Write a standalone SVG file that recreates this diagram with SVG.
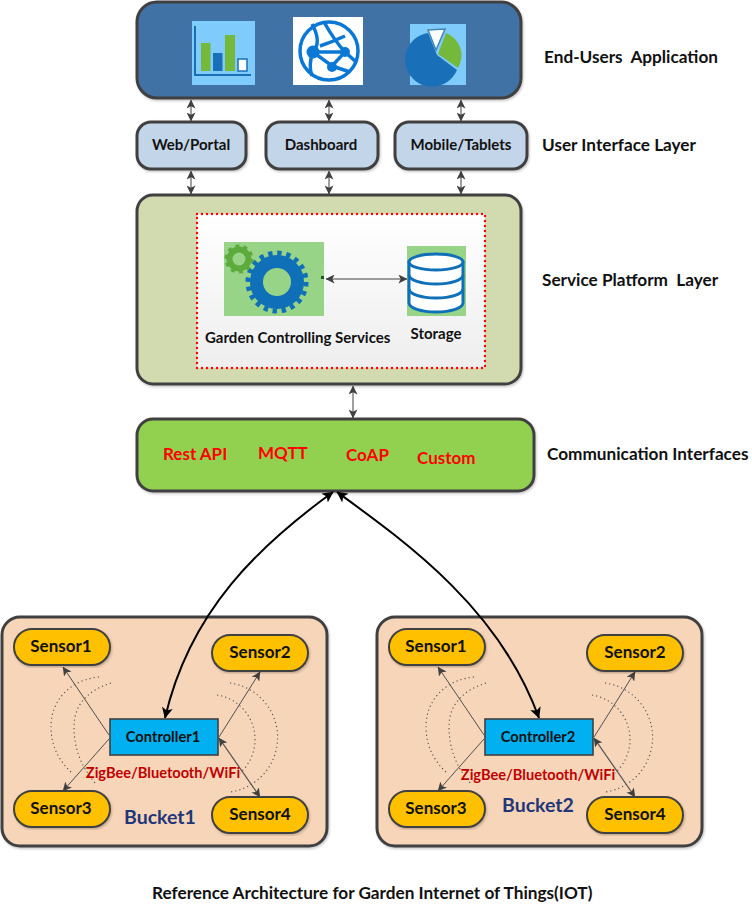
<svg xmlns="http://www.w3.org/2000/svg" width="752" height="905" viewBox="0 0 752 905">
<style>
text{font-family:Lato,"Open Sans","Liberation Sans",sans-serif;font-weight:700;fill:#111;white-space:pre}
.box{stroke:#404040;stroke-width:3;filter:url(#sh)}
.c{text-anchor:middle}
.ui{font-size:15px}
.layer{font-size:17.2px}
.proto{font-size:17px;fill:#ff0000}
.sensor rect{fill:#ffc000;stroke:#404040;stroke-width:2;filter:url(#sh)}
.sensor text{font-size:17px;text-anchor:middle}
.ctrl rect{fill:#00b0f0;stroke:#404040;stroke-width:1.6}
.ctrl text{font-size:14.7px;text-anchor:middle}
.rad{font-size:14.6px;fill:#c00000;text-anchor:middle}
.bk{font-size:19.5px;fill:#1f3678;text-anchor:middle}
.l{fill:none;stroke:#404040;stroke-width:1;marker-end:url(#a);marker-start:url(#a)}
.s{fill:none;stroke:#505050;stroke-width:1;marker-end:url(#a)}
.d{fill:none;stroke:#505050;stroke-width:1.2;marker-end:url(#a);marker-start:url(#a)}
.big{fill:none;stroke:#000;stroke-width:2;marker-end:url(#b);marker-start:url(#b)}
.arc{fill:none;stroke:#505050;stroke-width:1.1;stroke-dasharray:1.2 3}
</style>
<defs>
<filter id="sh" x="-5%" y="-5%" width="110%" height="112%"><feDropShadow dx="1" dy="1.5" stdDeviation="1.2" flood-color="#000" flood-opacity="0.22"/></filter>
<marker id="a" viewBox="0 0 10 10" refX="9.5" refY="5" markerUnits="userSpaceOnUse" markerWidth="9" markerHeight="9" orient="auto-start-reverse"><path d="M0 0L10 5L0 10L2.5 5Z" fill="#404040"/></marker>
<marker id="b" viewBox="0 0 10 10" refX="9.5" refY="5" markerUnits="userSpaceOnUse" markerWidth="11" markerHeight="11" orient="auto-start-reverse"><path d="M0 0L10 5L0 10L2.5 5Z" fill="#000"/></marker>
<linearGradient id="wg" x1="0" y1="0" x2="0" y2="1"><stop offset="0" stop-color="#ffffff"/><stop offset="1" stop-color="#eeeeee"/></linearGradient>
</defs>

<g id="end-users">
<rect class="box" x="137" y="2" width="384" height="96" rx="20" fill="#3f72a6"/>
<g id="icon-chart">
<rect x="192" y="21" width="63" height="64" fill="#7fcbfb"/>
<path d="M195 26V75H251" fill="none" stroke="#1a70b8" stroke-width="2"/>
<rect x="201" y="43" width="9.500" height="28" fill="#74b83c"/>
<rect x="213" y="53" width="9.500" height="18" fill="#1a70b8"/>
<rect x="225" y="35" width="10" height="36" fill="#74b83c"/>
<rect x="238" y="59" width="9" height="12" fill="#fff" stroke="#1a70b8" stroke-width="1.500"/>
</g>
<g id="icon-globe">
<rect x="293" y="17" width="70" height="68" fill="#fff"/>
<g fill="none" stroke="#0a78d4" stroke-width="3.500">
<circle cx="329" cy="51" r="29"/>
<path d="M312 24Q322 42 313 52Q308 65 312 76M313 52L345 52L332 66L313 52M324 22Q334 40 345 52L355 61M345 36Q332 42 320 46M332 66Q344 70 350 72"/>
</g>
<g fill="#0a78d4"><circle cx="313" cy="52" r="6.500"/><circle cx="345" cy="52" r="5"/><circle cx="332" cy="67" r="5"/></g>
</g>
<g id="icon-pie">
<rect x="410" y="24" width="56" height="61" fill="#7fcbfb"/>
<path d="M437 55L428 33A27 27 0 1 0 457 70Z" fill="#1a70b8"/>
<path d="M438 54L446 33A24 24 0 0 1 458 68Z" fill="#74b83c"/>
<path d="M428 30L445 29L436 50Z" fill="#fff" stroke="#3f86b8" stroke-width="1.500"/>
</g>
</g>

<g id="web-portal"><rect class="box" x="137" y="122" width="109" height="47" rx="14" fill="#c3d5e8"/><text class="ui c" x="191" y="150">Web/Portal</text></g>
<g id="dashboard"><rect class="box" x="266" y="122" width="112" height="47" rx="14" fill="#c3d5e8"/><text class="ui c" x="321" y="150">Dashboard</text></g>
<g id="mobile-tablets"><rect class="box" x="395" y="122" width="132" height="47" rx="14" fill="#c3d5e8"/><text class="ui c" x="461" y="150">Mobile/Tablets</text></g>

<g id="service-platform">
<rect class="box" x="137" y="195" width="384" height="189" rx="16" fill="#d2dab0"/>
<rect x="197" y="214" width="288" height="154" fill="url(#wg)" stroke="#ff0000" stroke-width="2.400" stroke-dasharray="0 5" stroke-linecap="round"/>
</g>
<g id="garden-services">
<rect x="224" y="242" width="100" height="74" fill="#98d488"/>
<circle cx="277" cy="282" r="20.500" fill="none" stroke="#0f70b8" stroke-width="13"/>
<circle cx="277" cy="282" r="29" fill="none" stroke="#0f70b8" stroke-width="5" stroke-dasharray="4.400 4.710"/>
<circle cx="239" cy="259" r="9.500" fill="none" stroke="#5cab3c" stroke-width="6"/>
<circle cx="239" cy="259" r="12.800" fill="none" stroke="#5cab3c" stroke-width="3.500" stroke-dasharray="4 4.040"/>
<rect x="321" y="276" width="3" height="3" fill="#1c5a2c"/>
<text x="205" y="343" font-size="15px">Garden Controlling Services</text>
</g>
<g id="storage">
<rect x="407" y="246" width="59" height="70" fill="#98d488"/>
<path d="M409 262V303A27 9 0 0 0 463 303V262Z" fill="#fff" stroke="#0f70b8" stroke-width="3"/>
<ellipse cx="436" cy="262" rx="27" ry="8" fill="#fff" stroke="#0f70b8" stroke-width="3"/>
<path d="M409 275A27 9 0 0 0 463 275M409 289A27 9 0 0 0 463 289" fill="none" stroke="#0f70b8" stroke-width="3"/>
<text class="c" x="436" y="339" font-size="15px">Storage</text>
</g>

<g id="communication">
<rect class="box" x="137" y="419" width="397" height="72" rx="16" fill="#92d050"/>
<text class="proto" x="163" y="460">Rest API</text>
<text class="proto" x="258" y="459">MQTT</text>
<text class="proto" x="346" y="461">CoAP</text>
<text class="proto" x="417" y="464">Custom</text>
</g>

<g id="labels">
<text class="layer" x="544" y="63">End-Users  Application</text>
<text class="layer" x="542" y="151">User Interface Layer</text>
<text class="layer" x="542" y="286">Service Platform  Layer</text>
<text class="layer" x="547" y="460">Communication Interfaces</text>
<text class="layer" x="152" y="899">Reference Architecture for Garden Internet of Things(IOT)</text>
</g>

<g id="bucket1">
<rect class="box" x="2" y="617" width="325" height="229" rx="18" fill="#f7d5b8"/>
<text class="bk" x="160" y="824">Bucket1</text>
</g>
<g id="bucket2">
<rect class="box" x="377" y="617" width="325" height="229" rx="18" fill="#f7d5b8"/>
<text class="bk" x="538" y="812">Bucket2</text>
</g>

<g id="connectors">
<path class="l" d="M191 100V121"/>
<path class="l" d="M329 100V121"/>
<path class="l" d="M461 100V121"/>
<path class="l" d="M191 171V194"/>
<path class="l" d="M329 171V194"/>
<path class="l" d="M461 171V194"/>
<path class="l" d="M353 386V418"/>
<path class="l" d="M326 279L407 279"/>
<path class="big" d="M333 492C260 545 190 610 165 718"/>
<path class="big" d="M337 492C410 545 500 610 539 718"/>
<g id="radio1">
<path class="arc" d="M99 677C70 680 51 700 51 727C51 745 58 760 72 773"/>
<path class="arc" d="M111 683Q74 695 74 727Q74 760 97 785"/>
<path class="arc" d="M230 683A55 55 0 0 1 230 792"/>
<path class="arc" d="M217 695A45 45 0 0 1 240 773"/>
<path class="s" d="M109 735L63 667"/>
<path class="s" d="M109 739L63 791"/>
<path class="s" d="M219 737L260 672"/>
<path class="d" d="M219 738L260 797"/>
</g>
<g id="radio2" transform="translate(375 0)">
<path class="arc" d="M99 677C70 680 51 700 51 727C51 745 58 760 72 773"/>
<path class="arc" d="M111 683Q74 695 74 727Q74 760 97 785"/>
<path class="arc" d="M230 683A55 55 0 0 1 230 792"/>
<path class="arc" d="M217 695A45 45 0 0 1 240 773"/>
<path class="s" d="M109 735L63 667"/>
<path class="s" d="M109 739L63 791"/>
<path class="s" d="M219 737L260 672"/>
<path class="d" d="M219 738L260 797"/>
</g>
</g>

<g id="controller1" class="ctrl"><rect x="110" y="719" width="108" height="36"/><text x="163" y="742">Controller1</text></g>
<g id="controller2" class="ctrl"><rect x="485" y="719" width="108" height="36"/><text x="538" y="742">Controller2</text></g>
<text class="rad" x="163" y="778">ZigBee/Bluetooth/WiFi</text>
<text class="rad" x="538" y="780">ZigBee/Bluetooth/WiFi</text>

<g id="b1-sensor1" class="sensor"><rect x="14" y="629" width="96" height="36" rx="18"/><text x="61" y="652">Sensor1</text></g>
<g id="b1-sensor2" class="sensor"><rect x="212" y="635" width="96" height="36" rx="18"/><text x="260" y="658">Sensor2</text></g>
<g id="b1-sensor3" class="sensor"><rect x="14" y="791" width="96" height="36" rx="18"/><text x="61" y="814">Sensor3</text></g>
<g id="b1-sensor4" class="sensor"><rect x="212" y="797" width="96" height="36" rx="18"/><text x="260" y="820">Sensor4</text></g>
<g id="b2-sensor1" class="sensor"><rect x="389" y="629" width="96" height="36" rx="18"/><text x="436" y="652">Sensor1</text></g>
<g id="b2-sensor2" class="sensor"><rect x="587" y="635" width="96" height="36" rx="18"/><text x="635" y="658">Sensor2</text></g>
<g id="b2-sensor3" class="sensor"><rect x="389" y="791" width="96" height="36" rx="18"/><text x="436" y="814">Sensor3</text></g>
<g id="b2-sensor4" class="sensor"><rect x="587" y="797" width="96" height="36" rx="18"/><text x="635" y="820">Sensor4</text></g>
</svg>
